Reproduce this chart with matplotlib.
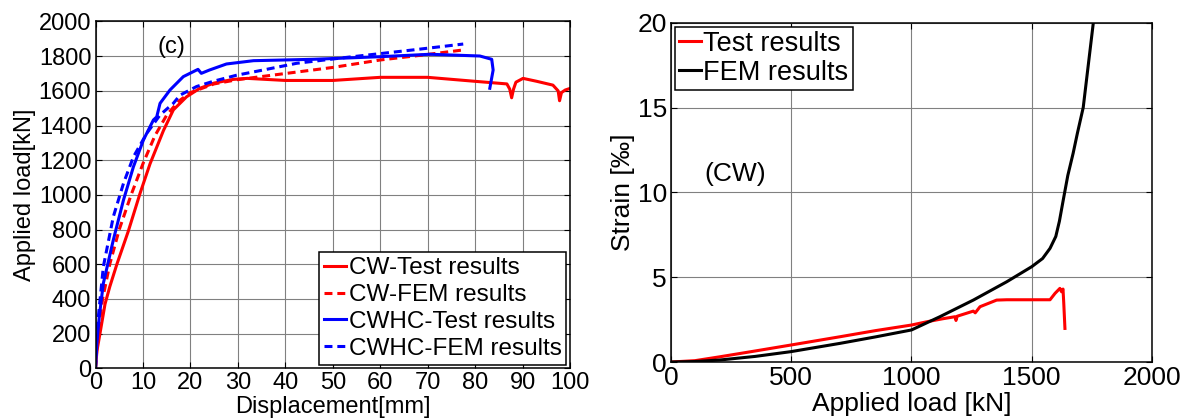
# ============================================================
# plot.py  —  load-displacement and load-strain curves
# ============================================================
import numpy as np
import matplotlib
matplotlib.use("Agg")
import matplotlib.pyplot as plt

plt.rcParams["font.family"] = ["Liberation Sans", "DejaVu Sans"]

# ── (c) load-displacement data ───────────────────────────────
cw_test_disp = [0, 0.3, 1.0, 2.0, 3.0, 4.5, 6.9, 9.4, 11.5, 14.3, 16.4, 19.2,
                22.0, 25.0, 29.0, 32.0, 40.0, 50.0, 60.0, 70.0, 80.0, 86.7,
                87.3, 87.7, 88.1, 88.6, 90.1, 93.0, 96.4, 97.5, 97.8, 98.2,
                99.0, 100.0]
cw_test_load = [0, 100, 210, 370, 470, 600, 790, 1010, 1180, 1370, 1490, 1566,
                1615, 1645, 1666, 1672, 1660, 1660, 1678, 1678, 1655, 1640,
                1610, 1560, 1610, 1650, 1672, 1655, 1633, 1600, 1543, 1590,
                1605, 1614]

cw_fem_disp = [0, 0.5, 1.5, 3.0, 5.0, 7.5, 10.0, 12.5, 15.0, 17.5, 20.0, 25.0,
               30.0, 40.0, 50.0, 60.0, 70.0, 77.5]
cw_fem_load = [0, 200, 400, 600, 800, 1000, 1180, 1340, 1460, 1540, 1590, 1640,
               1665, 1700, 1735, 1778, 1810, 1836]

cwhc_test_disp = [0, 0.3, 0.8, 1.65, 3.75, 5.9, 8.0, 10.1, 12.2, 12.9, 13.6,
                  15.7, 18.5, 21.3, 21.6, 22.3, 24.0, 27.6, 33.3, 45.9, 60.0,
                  70.5, 81.0, 83.5, 83.8, 83.1]
cwhc_test_load = [0, 150, 300, 490, 740, 971, 1163, 1317, 1432, 1450, 1528,
                  1605, 1682, 1720, 1724, 1701, 1720, 1755, 1774, 1782, 1797,
                  1811, 1801, 1782, 1720, 1615]

cwhc_fem_disp = [0, 0.2, 0.6, 1.65, 3.75, 5.9, 8.0, 10.8, 13.6, 16.4, 17.8,
                 21.3, 24.8, 29.7, 35.3, 42.4, 52.9, 66.9, 77.5]
cwhc_fem_load = [0, 150, 298, 586, 874, 1067, 1220, 1355, 1461, 1528, 1575,
                 1625, 1655, 1690, 1720, 1759, 1793, 1836, 1870]

# ── (CW) load-strain data ────────────────────────────────────
test_load   = [0, 100, 204, 350, 498, 703, 850, 1000, 1063, 1130, 1181, 1185,
               1190, 1257, 1265, 1285, 1354, 1396, 1576, 1597, 1617, 1624,
               1630, 1633, 1638]
test_strain = [0, 0.08, 0.31, 0.65, 1.0, 1.49, 1.85, 2.18, 2.37, 2.55, 2.67,
               2.45, 2.70, 3.0, 2.9, 3.26, 3.65, 3.67, 3.67, 4.05, 4.34, 4.14,
               4.30, 3.5, 1.98]

fem_load   = [0, 100, 204, 350, 498, 703, 850, 1000, 1118, 1257, 1396, 1500,
              1545, 1576, 1600, 1615, 1631, 1650, 1672, 1690, 1714, 1735, 1756]
fem_strain = [0, 0.03, 0.12, 0.33, 0.61, 1.10, 1.48, 1.89, 2.67, 3.65, 4.73,
              5.62, 6.10, 6.70, 7.40, 8.30, 9.55, 11.0, 12.3, 13.5, 15.0,
              17.5, 20.0]

LW = 2.2
DASH = (2.6, 1.6)


def style_axes(ax, fs):
    ax.grid(True, color="#808080", lw=0.8)
    ax.set_axisbelow(True)
    ax.tick_params(direction="in", length=4, width=0.8, labelsize=fs,
                   top=True, right=True, pad=3)
    for sp in ax.spines.values():
        sp.set_linewidth(1.1)
        sp.set_color("black")


def main():
    fig = plt.figure(figsize=(11.88, 4.19), dpi=100)

    # ── left panel: load vs displacement ─────────────────────
    ax1 = fig.add_axes([0.0804, 0.1210, 0.3994, 0.8277])
    ax1.plot(cw_test_disp, cw_test_load, color="red", lw=LW,
             label="CW-Test results")
    ax1.plot(cw_fem_disp, cw_fem_load, color="red", lw=LW, ls="--",
             dashes=DASH, label="CW-FEM results")
    ax1.plot(cwhc_test_disp, cwhc_test_load, color="blue", lw=LW,
             label="CWHC-Test results")
    ax1.plot(cwhc_fem_disp, cwhc_fem_load, color="blue", lw=LW, ls="--",
             dashes=DASH, label="CWHC-FEM results")
    ax1.set_xlim(0, 100)
    ax1.set_ylim(0, 2000)
    ax1.set_xticks(np.arange(0, 101, 10))
    ax1.set_yticks(np.arange(0, 2001, 200))
    style_axes(ax1, 17)
    ax1.set_xlabel("Displacement[mm]", fontsize=17, labelpad=1)
    ax1.set_ylabel("Applied load[kN]", fontsize=17, labelpad=2)
    ax1.text(16, 1855, "(c)", fontsize=17, ha="center", va="center")
    leg1 = ax1.legend(loc="lower right", fontsize=17.5, handlelength=0.9,
                      handletextpad=0.1, labelspacing=0.2, borderpad=0.2,
                      borderaxespad=0.15, fancybox=False, framealpha=1)
    leg1.get_frame().set_edgecolor("black")
    leg1.get_frame().set_linewidth(1.1)

    # ── right panel: strain vs load ──────────────────────────
    ax2 = fig.add_axes([0.5648, 0.1360, 0.4049, 0.8098])
    ax2.plot(test_load, test_strain, color="red", lw=LW,
             label="Test results")
    ax2.plot(fem_load, fem_strain, color="black", lw=LW,
             label="FEM results")
    ax2.set_xlim(0, 2000)
    ax2.set_ylim(0, 20)
    ax2.set_xticks(np.arange(0, 2001, 500))
    ax2.set_yticks(np.arange(0, 21, 5))
    style_axes(ax2, 19)
    ax2.set_xlabel("Applied load [kN]", fontsize=19, labelpad=1)
    ax2.set_ylabel("Strain [‰]", fontsize=19, labelpad=2)
    ax2.text(268, 11.1, "(CW)", fontsize=19, ha="center", va="center")
    leg2 = ax2.legend(loc="upper left", fontsize=19.5, handlelength=0.8,
                      handletextpad=0.1, labelspacing=0.1, borderpad=0.15,
                      borderaxespad=0.15, fancybox=False, framealpha=1)
    leg2.get_frame().set_edgecolor("black")
    leg2.get_frame().set_linewidth(1.1)

    plt.savefig("out.png", dpi=100)
    plt.close()


if __name__ == '__main__':
    main()
